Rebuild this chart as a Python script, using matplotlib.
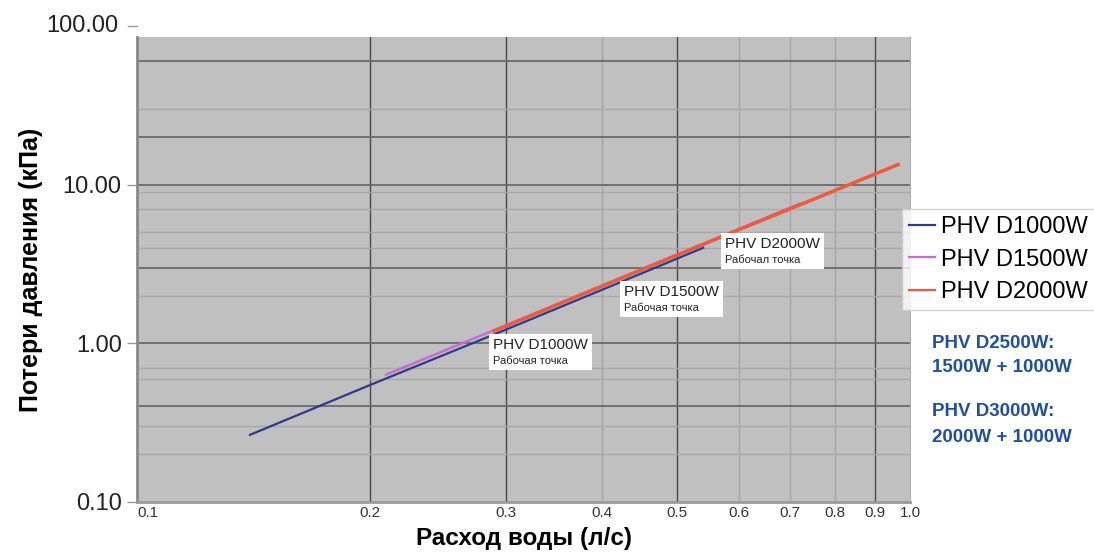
import matplotlib
matplotlib.use("Agg")
import matplotlib.pyplot as plt
from matplotlib.offsetbox import TextArea, VPacker, AnnotationBbox
from matplotlib.ticker import FixedLocator, FixedFormatter, NullLocator
import matplotlib.transforms as mtransforms

plt.rcParams['font.family'] = ['Liberation Sans', 'DejaVu Sans']

# ---- data ----
q_1000 = [0.14, 0.2, 0.3, 0.4, 0.54]
p_1000 = [0.265, 0.545, 1.22, 2.18, 4.0]
q_1500 = [0.21, 0.3, 0.4, 0.5, 0.6, 0.72]
p_1500 = [0.635, 1.30, 2.32, 3.64, 5.24, 7.6]
q_2000 = [0.29, 0.4, 0.5, 0.6, 0.7, 0.8, 0.965]
p_2000 = [1.2, 2.3, 3.6, 5.2, 7.05, 9.2, 13.4]

series_names = ["PHV D1000W", "PHV D1500W", "PHV D2000W"]
x_ticks = [0.1, 0.2, 0.3, 0.4, 0.5, 0.6, 0.7, 0.8, 0.9, 1.0]
x_ticklabels = ["0.1", "0.2", "0.3", "0.4", "0.5", "0.6", "0.7", "0.8", "0.9", "1.0"]
y_ticks = [0.1, 1.0, 10.0]
y_ticklabels = ["0.10", "1.00", "10.00"]
y_top_label_value = 100.0
y_top_label = "100.00"

vgrid_dark = [0.2, 0.3, 0.5, 0.9]
vgrid_light = [0.4, 0.6, 0.7, 0.8]
hgrid_dark = [60, 20, 10, 3, 1, 0.4]
hgrid_light = [30, 9, 7, 5, 4, 2, 0.7, 0.6, 0.3, 0.2]

op_labels = [("PHV D1000W", "Рабочая точка"),
             ("PHV D1500W", "Рабочая точка"),
             ("PHV D2000W", "Рабочал точка")]
op_anchor_q = [0.289, 0.427, 0.576]
op_anchor_p = [1.085, 2.34, 4.7]

side_text = ["PHV D2500W:", "1500W + 1000W", "PHV D3000W:", "2000W + 1000W"]

# ---- figure ----
fig = plt.figure(figsize=(10.94, 5.53), dpi=100)
ax = fig.add_axes([137/1094, 1-502/553, (910-137)/1094, (502-37)/553])
ax.set_facecolor("#c0c0c0")
ax.set_xscale("log")
ax.set_yscale("log")
ax.set_xlim(0.1, 1.0)
ax.set_ylim(0.1, 85.3)

for v in vgrid_light:
    ax.axvline(v, color="#a6a6a6", lw=1.0, zorder=1)
for v in vgrid_dark:
    ax.axvline(v, color="#4a4a4a", lw=1.0, zorder=1)
for h in hgrid_light:
    ax.axhline(h, color="#a8a8a8", lw=1.0, zorder=1)
for h in hgrid_dark:
    ax.axhline(h, color="#6a6a6a", lw=1.3, zorder=1)

ax.plot(q_1000, p_1000, color="#2e3a8c", lw=1.6, label=series_names[0], zorder=4)
ax.plot(q_1500, p_1500, color="#c86ccf", lw=1.8, label=series_names[1], zorder=3)
ax.plot(q_2000, p_2000, color="#ef5a3a", lw=2.5, label=series_names[2], zorder=3.5)

ax.xaxis.set_major_locator(FixedLocator(x_ticks))
ax.xaxis.set_major_formatter(FixedFormatter(x_ticklabels))
ax.xaxis.set_minor_locator(NullLocator())
ax.yaxis.set_major_locator(FixedLocator(y_ticks))
ax.yaxis.set_major_formatter(FixedFormatter(y_ticklabels))
ax.yaxis.set_minor_locator(NullLocator())

ax.tick_params(axis="x", length=0, pad=3, labelsize=11, labelcolor="#333333")
ax.tick_params(axis="y", length=7, width=1, color="#999999", pad=4,
               labelsize=17, labelcolor="#222222")
for lab in ax.get_xticklabels():
    lab.set_horizontalalignment("left" if lab.get_text() == "0.1" else "center")

ax.spines["top"].set_visible(False)
ax.spines["left"].set_color("#8a8a8a")
ax.spines["left"].set_linewidth(2)
ax.spines["bottom"].set_color("#9a9a9a")
ax.spines["bottom"].set_linewidth(2)
ax.spines["right"].set_color("#b0b0b0")

# 100.00 label above plot area
trans = mtransforms.blended_transform_factory(ax.transAxes, ax.transData)
ax.plot([-0.012, 0.0], [y_top_label_value, y_top_label_value], transform=trans,
        color="#999999", lw=1, clip_on=False)
ax.text(-0.0245, y_top_label_value, y_top_label, transform=trans, ha="right",
        va="center", fontsize=17, color="#222222", clip_on=False)

ax.set_xlabel("Расход воды (л/с)", fontsize=17.5, fontweight="bold", labelpad=5)
ax.set_ylabel("Потери давления (кПа)", fontsize=18, fontweight="bold", labelpad=14)

# operating-point labels
for (l1, l2), qx, py in zip(op_labels, op_anchor_q, op_anchor_p):
    t1 = TextArea(l1, textprops=dict(fontsize=11, color="#222222"))
    t2 = TextArea(l2, textprops=dict(fontsize=8, color="#222222"))
    box = VPacker(children=[t1, t2], align="left", pad=0, sep=3)
    ab = AnnotationBbox(box, (qx, py), xycoords="data", box_alignment=(0, 1),
                        frameon=True, pad=0.3,
                        bboxprops=dict(facecolor="white", edgecolor="none"))
    ab.set_zorder(5)
    ax.add_artist(ab)

leg = fig.legend(loc="upper left", bbox_to_anchor=(902/1094, 1-209/553),
                 fontsize=17, frameon=True, fancybox=False, handlelength=1.1,
                 handletextpad=0.25, labelspacing=0.45, borderpad=0.3,
                 borderaxespad=0)
leg.get_frame().set_edgecolor("#c8c8c8")
leg.get_frame().set_linewidth(1)
for line in leg.get_lines():
    line.set_linewidth(1.6)

ys = [343, 368, 412, 438]
for txt, y in zip(side_text, ys):
    fig.text(932/1094, 1-y/553, txt, fontsize=13.5, fontweight="bold",
             color="#1f4f9e", ha="left", va="center")

fig.savefig("out.png", dpi=100)
